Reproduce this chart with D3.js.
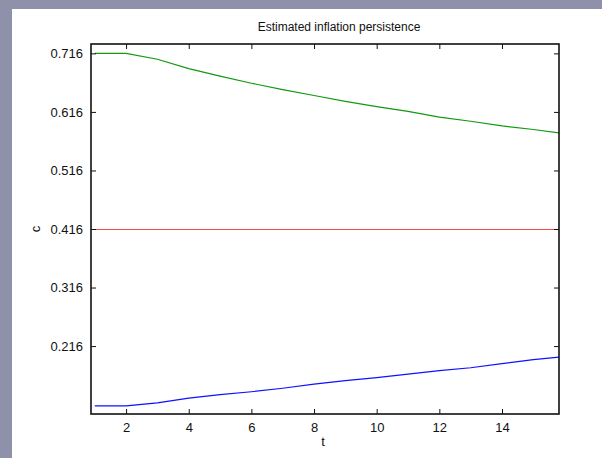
<!DOCTYPE html>
<html>
<head>
<meta charset="utf-8">
<script src="https://cdn.jsdelivr.net/npm/d3@7"></script>
<style>
  body { margin: 0; background: #8f90aa; }
  text { font-family: "Liberation Sans", Arial, sans-serif; fill: #111; }
</style>
</head>
<body>
<div id="chart"></div>
<script>
// data
var tValues = [1, 2, 3, 4, 5, 6, 7, 8, 9, 10, 11, 12, 13, 14, 15, 16];
var upperBand = [0.716, 0.716, 0.706, 0.690, 0.677, 0.665, 0.654, 0.644, 0.634, 0.625, 0.617, 0.607, 0.600, 0.592, 0.586, 0.579];
var lowerBand = [0.114, 0.114, 0.119, 0.127, 0.133, 0.138, 0.144, 0.151, 0.157, 0.162, 0.168, 0.174, 0.179, 0.186, 0.193, 0.198];
var meanLevel = 0.416;
var xTicks = [2, 4, 6, 8, 10, 12, 14];
var yTicks = [0.216, 0.316, 0.416, 0.516, 0.616, 0.716];

function draw_persistence() {
  var w = 602, h = 458,
      x0 = 91, y0 = 44, x1 = 559, y1 = 414;

  var svg = d3.select("#chart").append("svg")
        .attr("width", w)
        .attr("height", h);

  svg.append("rect")
    .attr("x", 12).attr("y", 9)
    .attr("width", w - 12).attr("height", h - 9)
    .attr("fill", "#fff");

  var x = d3.scaleLinear().domain([0.88, 15.82]).range([x0, x1]);
  var y = d3.scaleLinear().domain([0.1, 0.732]).range([y1, y0]);

  svg.append("clipPath").attr("id", "clip")
    .append("rect")
    .attr("x", x0).attr("y", y0)
    .attr("width", x1 - x0).attr("height", y1 - y0);

  var plot = svg.append("g").attr("clip-path", "url(#clip)");

  var line = d3.line()
        .x((d, i) => x(tValues[i]))
        .y((d) => y(d));

  plot.append("line")
    .attr("x1", x0).attr("x2", x1)
    .attr("y1", y(meanLevel)).attr("y2", y(meanLevel))
    .attr("stroke", "#ff4848")
    .attr("stroke-width", 1)
    .attr("shape-rendering", "crispEdges");

  plot.append("path")
    .datum(upperBand)
    .attr("d", line)
    .attr("fill", "none")
    .attr("stroke", "#119911")
    .attr("stroke-width", 1.2);

  plot.append("path")
    .datum(lowerBand)
    .attr("d", line)
    .attr("fill", "none")
    .attr("stroke", "#1010ff")
    .attr("stroke-width", 1.2);

  // axes, matlab style: inward ticks on all four sides
  var tick = 5;
  var axes = svg.append("g");

  axes.append("g")
    .attr("transform", "translate(0," + y1 + ")")
    .call(d3.axisBottom(x).tickValues(xTicks).tickSizeInner(-tick).tickSizeOuter(0).tickPadding(9));
  axes.append("g")
    .attr("transform", "translate(0," + y0 + ")")
    .call(d3.axisTop(x).tickValues(xTicks).tickSizeInner(-tick).tickSizeOuter(0).tickFormat(""));
  axes.append("g")
    .attr("transform", "translate(" + x0 + ",0)")
    .call(d3.axisLeft(y).tickValues(yTicks).tickSizeInner(-tick).tickSizeOuter(0).tickPadding(8).tickFormat(d3.format(".3f")));
  axes.append("g")
    .attr("transform", "translate(" + x1 + ",0)")
    .call(d3.axisRight(y).tickValues(yTicks).tickSizeInner(-tick).tickSizeOuter(0).tickFormat(""));

  axes.selectAll(".domain").remove();
  axes.selectAll(".tick line").attr("stroke", "#111");
  axes.selectAll(".tick text")
    .style("font-size", "13px")
    .style("font-family", "Liberation Sans, Arial, sans-serif")
    .attr("fill", "#111");

  axes.append("rect")
    .attr("x", x0).attr("y", y0)
    .attr("width", x1 - x0).attr("height", y1 - y0)
    .attr("fill", "none")
    .attr("stroke", "#111")
    .attr("stroke-width", 1.6);

  svg.append("text")
    .attr("x", 339)
    .attr("y", 31)
    .attr("text-anchor", "middle")
    .style("font-size", "12px")
    .text("Estimated inflation persistence");

  svg.append("text")
    .attr("x", 323)
    .attr("y", 446)
    .attr("text-anchor", "middle")
    .style("font-size", "13px")
    .text("t");

  svg.append("text")
    .attr("transform", "translate(40," + y(meanLevel) + ") rotate(-90)")
    .attr("text-anchor", "middle")
    .style("font-size", "13px")
    .text("c");
}

draw_persistence();
</script>
</body>
</html>
